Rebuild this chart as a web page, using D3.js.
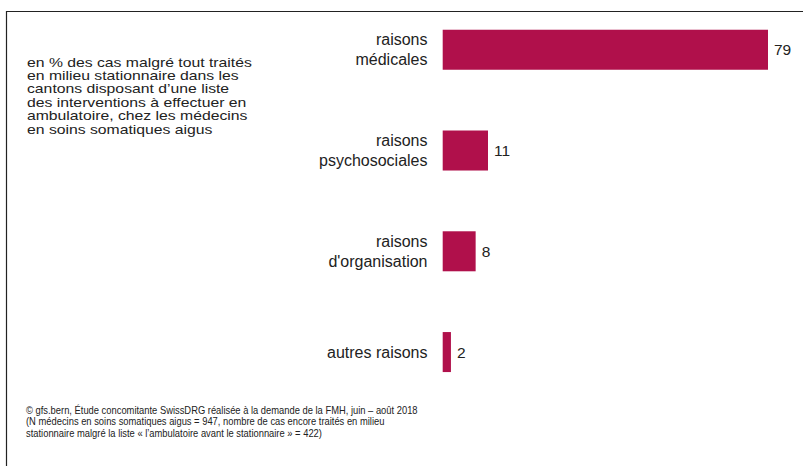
<!DOCTYPE html>
<html><head><meta charset="utf-8">
<script src="https://cdn.jsdelivr.net/npm/d3@7"></script>
<style>html,body{margin:0;padding:0;background:#fff;}svg{display:block;}</style>
</head><body>
<svg id="c" width="803" height="466"></svg>
<script>
const categories = [["raisons","médicales"],["raisons","psychosociales"],["raisons","d'organisation"],["autres raisons"]];
const values = [79, 11, 8, 2];
const noteLines = ["en % des cas malgré tout traités","en milieu stationnaire dans les","cantons disposant d’une liste","des interventions à effectuer en","ambulatoire, chez les médecins","en soins somatiques aigus"];
const sourceLines = ["© gfs.bern, Étude concomitante SwissDRG réalisée à la demande de la FMH, juin – août 2018","(N médecins en soins somatiques aigus = 947, nombre de cas encore traités en milieu","stationnaire malgré la liste « l’ambulatoire avant le stationnaire » = 422)"];

const svg = d3.select("#c");
const font = "'Liberation Sans', Arial, Helvetica, sans-serif";
const barColor = "#b0104b";
const ink = "#222";

// frame
svg.append("line").attr("x1",6).attr("x2",803).attr("y1",11.5).attr("y2",11.5).attr("stroke","#222").attr("stroke-width",1.2);
svg.append("line").attr("x1",6.5).attr("x2",6.5).attr("y1",11).attr("y2",466).attr("stroke","#222").attr("stroke-width",1.2);

const x = d3.scaleLinear().domain([0, 79]).range([442.7, 768]);
const yb = d3.scaleBand().domain(d3.range(values.length)).range([-0.5, 402.3]).paddingInner(0.603).paddingOuter(0.3);

const g = svg.append("g");
g.selectAll("rect").data(values).join("rect")
  .attr("x", x(0)).attr("y", (d,i)=>yb(i))
  .attr("width", d => x(d) - x(0)).attr("height", yb.bandwidth())
  .attr("fill", barColor);

g.selectAll("text.val").data(values).join("text").attr("class","val")
  .attr("x", d => x(d) + 6).attr("y", (d,i)=> yb(i) + yb.bandwidth()/2 + 5.5)
  .attr("font-family", font).attr("font-size", 15.5).attr("fill", ink).text(d => d);

categories.forEach((lines, i) => {
  const cy = yb(i) + yb.bandwidth()/2;
  const lh = 20;
  const t = g.append("text").attr("text-anchor","end").attr("font-family", font).attr("font-size", 16).attr("fill", ink);
  lines.forEach((l, j) => {
    t.append("tspan").attr("x", 427.5).attr("y", cy + 5.5 + (j - (lines.length-1)/2) * lh).text(l);
  });
});

// note: slightly widened to match reference width (~225px for line 1)
const noteG = svg.append("g");
const note = noteG.append("text").attr("font-family", font).attr("font-size", 13.2).attr("fill", ink);
noteLines.forEach((l, j) => note.append("tspan").attr("x", 0).attr("y", j*13.5).text(l));
const w1 = note.select("tspan").node().getComputedTextLength();
noteG.attr("transform", `translate(27,66.5) scale(${225/w1},1)`);

// source: condensed by horizontal scaling to fit ~392px on line 1
const srcG = svg.append("g");
const src = srcG.append("text").attr("font-family", font).attr("font-size", 11.6).attr("fill", ink);
sourceLines.forEach((l, j) => src.append("tspan").attr("x", 0).attr("y", j*11.7).text(l));
const sw = src.select("tspan").node().getComputedTextLength();
srcG.attr("transform", `translate(26,413.5) scale(${392/sw},1)`);
</script>
</body></html>
